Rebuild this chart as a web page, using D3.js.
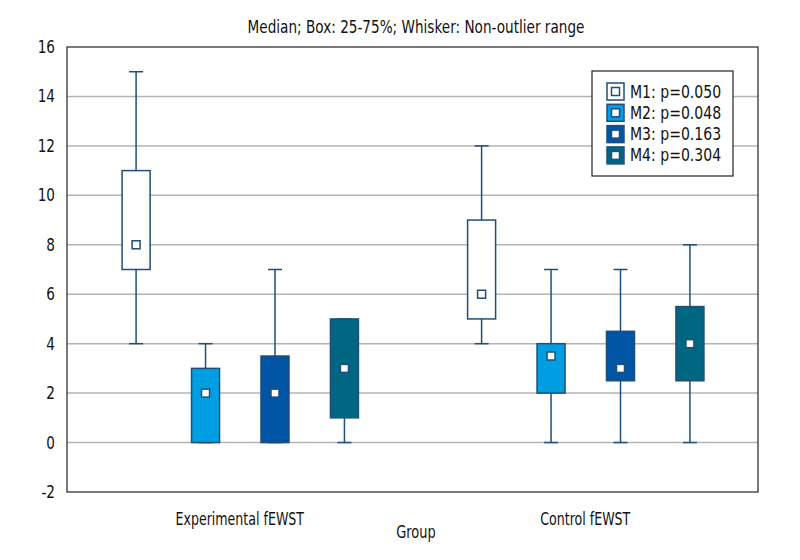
<!DOCTYPE html>
<html><head><meta charset="utf-8">
<script src="https://cdn.jsdelivr.net/npm/d3@7/dist/d3.min.js"></script>
<style>body{margin:0;background:#fff}text{font-family:"DejaVu Sans",sans-serif;fill:#111}</style>
</head><body><svg id="c" width="800" height="560"></svg>
<script>
const groups = ["Experimental fEWST", "Control fEWST"];
const seriesNames = ["M1: p=0.050", "M2: p=0.048", "M3: p=0.163", "M4: p=0.304"];
const colors = ["#ffffff", "#009fe3", "#0056a4", "#006783"];
// per group, per series: [whiskerLow, q1, median, q3, whiskerHigh]
const expStats = [[4, 7, 8, 11, 15], [0, 0, 2, 3, 4], [0, 0, 2, 3.5, 7], [0, 1, 3, 5, 5]];
const ctlStats = [[4, 5, 6, 9, 12], [0, 2, 3.5, 4, 7], [0, 2.5, 3, 4.5, 7], [0, 2.5, 4, 5.5, 8]];
const yTicks = [-2, 0, 2, 4, 6, 8, 10, 12, 14, 16];

// condense text glyphs to mimic a condensed typeface
function condense(sel, factor) {
  sel.each(function () {
    const w = this.getComputedTextLength();
    d3.select(this).attr("textLength", w * factor).attr("lengthAdjust", "spacingAndGlyphs");
  });
}

const svg = d3.select("#c");
const m = {l: 67, r: 758, t: 47, b: 492};
const y = d3.scaleLinear().domain([-2, 16]).range([m.b, m.t]);
const x0 = d3.scaleBand().domain(groups).range([m.l, m.r]);
const x1 = d3.scalePoint().domain(seriesNames).range([0.2 * x0.bandwidth(), 0.803 * x0.bandwidth()]);
const stroke = "#1f4e7a";

// grid
svg.append("g").selectAll("line").data(yTicks.filter(t => t > -2 && t < 16)).join("line")
  .attr("x1", m.l).attr("x2", m.r).attr("y1", d => y(d)).attr("y2", d => y(d))
  .attr("stroke", "#b4b4b4").attr("stroke-width", 1.5);

// frame
svg.append("rect").attr("x", m.l).attr("y", m.t).attr("width", m.r - m.l).attr("height", m.b - m.t)
  .attr("fill", "none").attr("stroke", "#222").attr("stroke-width", 1.2);

// y axis
const ya = svg.append("g").attr("transform", `translate(${m.l},0)`)
  .call(d3.axisLeft(y).tickValues(yTicks).tickFormat(d => String(d)).tickSize(0).tickPadding(12));
ya.select(".domain").remove();
ya.selectAll("text").style("font-size", "17px").attr("fill", "#111").call(condense, 0.8);

// x axis labels
const xa = svg.append("g").attr("transform", `translate(0,${m.b})`)
  .call(d3.axisBottom(x0).tickSize(0).tickPadding(0));
xa.select(".domain").remove();
xa.selectAll("text").attr("dy", null).attr("y", 33).style("font-size", "18px").attr("fill", "#111").call(condense, 0.7);

const all = [expStats, ctlStats];
const bw = 28, cap = 14;
groups.forEach((g, gi) => {
  const gg = svg.append("g");
  all[gi].forEach((s, si) => {
    const cx = x0(g) + x1(seriesNames[si]);
    const grp = gg.append("g");
    grp.append("line").attr("x1", cx).attr("x2", cx).attr("y1", y(s[0])).attr("y2", y(s[4]))
      .attr("stroke", stroke).attr("stroke-width", 1.5);
    [s[0], s[4]].forEach(v => grp.append("line").attr("x1", cx - cap / 2).attr("x2", cx + cap / 2)
      .attr("y1", y(v)).attr("y2", y(v)).attr("stroke", stroke).attr("stroke-width", 1.5));
    grp.append("rect").attr("x", cx - bw / 2).attr("y", y(s[3])).attr("width", bw)
      .attr("height", y(s[1]) - y(s[3])).attr("fill", colors[si]).attr("stroke", stroke).attr("stroke-width", 1.5);
    grp.append("rect").attr("x", cx - 4).attr("y", y(s[2]) - 4).attr("width", 8).attr("height", 8)
      .attr("fill", "#fff").attr("stroke", stroke).attr("stroke-width", 1.5);
  });
});

// title
svg.append("text").attr("x", 416).attr("y", 33).attr("text-anchor", "middle")
  .style("font-size", "17px").text("Median; Box: 25-75%; Whisker: Non-outlier range").call(condense, 0.8);
svg.append("text").attr("x", 416).attr("y", 538).attr("text-anchor", "middle")
  .style("font-size", "18px").text("Group").call(condense, 0.72);

// legend
const lg = svg.append("g");
lg.append("rect").attr("x", 592).attr("y", 71).attr("width", 141).attr("height", 105)
  .attr("fill", "#fff").attr("stroke", "#222").attr("stroke-width", 1.2);
seriesNames.forEach((n, i) => {
  const cy = 91 + i * 21.3;
  lg.append("rect").attr("x", 607).attr("y", cy - 8).attr("width", 17).attr("height", 17)
    .attr("fill", colors[i]).attr("stroke", stroke).attr("stroke-width", 1.5);
  lg.append("rect").attr("x", 611.5).attr("y", cy - 3.5).attr("width", 8).attr("height", 8)
    .attr("fill", "#fff").attr("stroke", stroke).attr("stroke-width", 1.5);
  lg.append("text").attr("x", 630).attr("y", cy + 6.5).style("font-size", "18px").text(n).call(condense, 0.78);
});
</script></body></html>
